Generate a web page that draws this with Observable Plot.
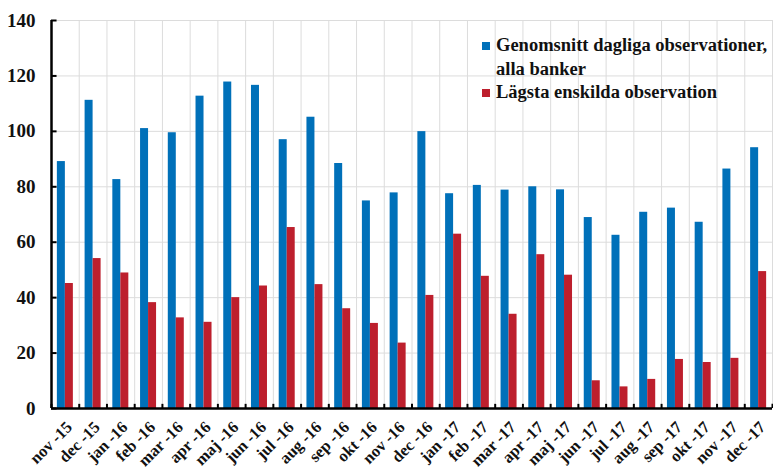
<!DOCTYPE html>
<html><head><meta charset="utf-8">
<script src="https://cdn.jsdelivr.net/npm/d3@7"></script>
<script src="https://cdn.jsdelivr.net/npm/@observablehq/plot@0.6"></script>
<style>
body{margin:0;background:#fff;}
#wrap{position:relative;width:773px;height:473px;}
#legend{position:absolute;left:482px;top:34px;font-family:"Liberation Serif","Times New Roman","DejaVu Serif",serif;font-weight:bold;font-size:18.5px;line-height:23.5px;color:#111;white-space:nowrap;}
#legend .row{display:flex;align-items:flex-start;}
#legend .sw{width:8px;height:8px;margin-right:6px;margin-top:8px;flex:none;}
</style></head>
<body><div id="wrap"><div id="legend"></div></div>
<script>
const months = ["nov -15","dec -15","jan -16","feb -16","mar -16","apr -16","maj -16","jun -16","jul -16","aug -16","sep -16","okt -16","nov -16","dec -16","jan -17","feb -17","mar -17","apr -17","maj -17","jun -17","jul -17","aug -17","sep -17","okt -17","nov -17","dec -17"];
const avgAll = [89.1,111.2,82.6,101.0,99.5,112.7,117.8,116.6,97.0,105.1,88.4,74.9,77.8,99.9,77.5,80.5,78.8,80.0,78.9,68.9,62.5,70.8,72.3,67.2,86.4,94.1];
const lowest = [45.1,54.1,48.9,38.2,32.7,31.1,40.0,44.2,65.3,44.7,36.0,30.7,23.6,40.8,62.9,47.7,34.0,55.5,48.1,10.0,7.8,10.5,17.7,16.6,18.1,49.4];
const seriesNames = ["Genomsnitt dagliga observationer, alla banker","Lägsta enskilda observation"];
const legendLines = [["Genomsnitt dagliga observationer,","alla banker"],["Lägsta enskilda observation"]];
const colors = ["#0070b9","#bd1f2d"];
const yTicks = [0,20,40,60,80,100,120,140];

const FONT = "'Liberation Serif', 'Times New Roman', 'DejaVu Serif', serif";
const idx = months.map((m,i)=>i);
const rows = [];
months.forEach((m,i)=>{
  rows.push({i, month:m, s:0, v:avgAll[i]});
  rows.push({i, month:m, s:1, v:lowest[i]});
});
const bounds = d3.range(months.length+1);

const W = 773, H = 473;
const ml = 51, mr = 1;
const step = (W-ml-mr)/months.length;
const barW = 8;
const gap = (step - 2*barW)/2;

const chart = Plot.plot({
  width: W, height: H,
  marginLeft: ml, marginRight: mr, marginTop: 20, marginBottom: 65,
  style: {fontFamily: FONT, fontWeight: "bold", color:"#111", background:"#fff"},
  x: {type:"linear", domain:[0, months.length], axis: null},
  y: {domain:[0,140], ticks: yTicks, axis: null},
  marks: [
    Plot.ruleY(yTicks.filter(t=>t>0), {stroke:"#dcdcdc", strokeWidth:1}),
    Plot.ruleX(bounds.slice(1), {stroke:"#dcdcdc", strokeWidth:1}),
    Plot.rectY(rows.filter(d=>d.s===0), {x1: d=>d.i, x2: d=>d.i+1, y1:0, y2:"v", fill: colors[0], insetLeft: gap, insetRight: gap+barW}),
    Plot.rectY(rows.filter(d=>d.s===1), {x1: d=>d.i, x2: d=>d.i+1, y1:0, y2:"v", fill: colors[1], insetLeft: gap+barW, insetRight: gap}),
    Plot.ruleX(bounds, {y1:0, y2:1.5, stroke:"#000", strokeWidth:2}),
    Plot.ruleY(yTicks, {x1:0, x2:0.2, stroke:"#000", strokeWidth:2}),
    Plot.ruleX([0], {stroke:"#000", strokeWidth:2.5}),
    Plot.ruleY([0], {stroke:"#000", strokeWidth:2.5}),
    Plot.text(yTicks, {x:0, y:d=>d, text:d=>String(d), textAnchor:"end", dx:-16, fontSize:19, fontWeight:"bold", fill:"#111", fontFamily: FONT}),
    Plot.text(idx, {x:d=>d+0.5, y:0, text:d=>months[d], rotate:-45, textAnchor:"end", dx:4, dy:16, fontSize:16.5, fontWeight:"bold", fill:"#111", fontFamily: FONT})
  ]
});
const wrap = document.getElementById("wrap");
wrap.insertBefore(chart, wrap.firstChild);

const lg = document.getElementById("legend");
legendLines.forEach((lines,k)=>{
  const r = document.createElement("div"); r.className="row";
  const sw = document.createElement("div"); sw.className="sw"; sw.style.background=colors[k];
  const t = document.createElement("div"); t.innerHTML = lines.join("<br>");
  t.title = seriesNames[k];
  r.appendChild(sw); r.appendChild(t); lg.appendChild(r);
});
</script></body></html>
